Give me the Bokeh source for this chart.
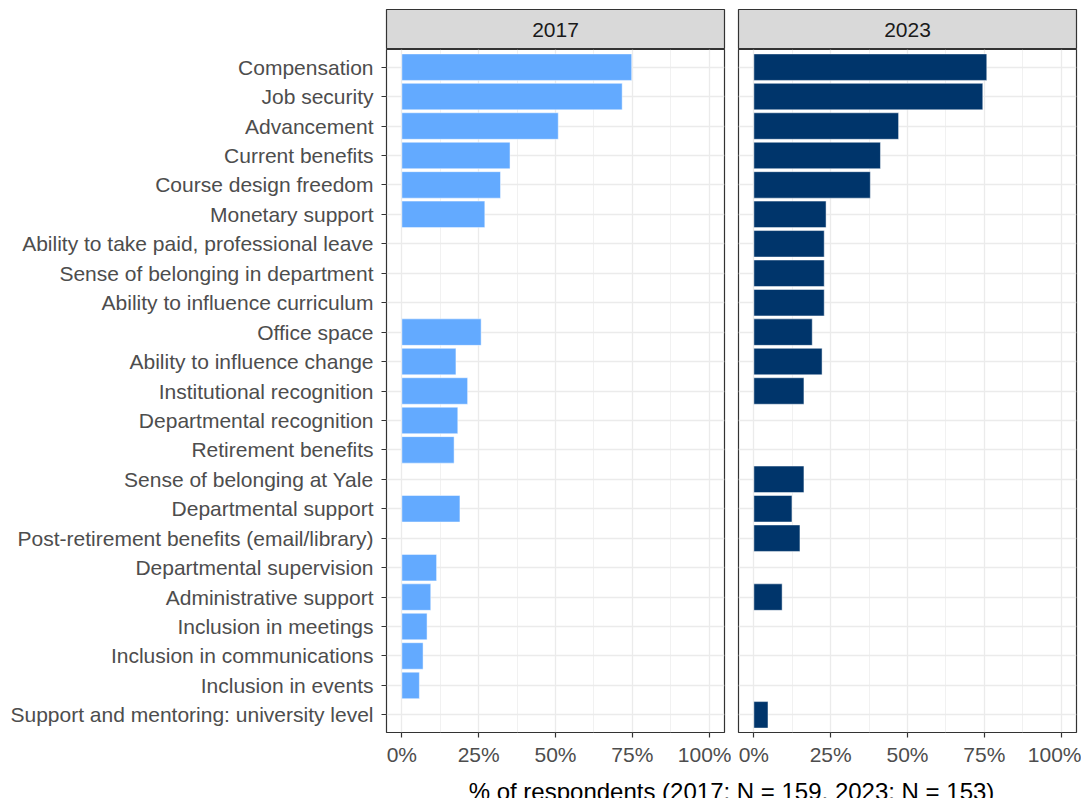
from bokeh.plotting import figure
from bokeh.layouts import column, row
from bokeh.models import FactorRange, Range1d, FixedTicker, ColumnDataSource
from bokeh.core.properties import value
from bokeh.embed import file_html
from bokeh.resources import INLINE

categories = [
    "Compensation", "Job security", "Advancement", "Current benefits",
    "Course design freedom", "Monetary support",
    "Ability to take paid, professional leave", "Sense of belonging in department",
    "Ability to influence curriculum", "Office space", "Ability to influence change",
    "Institutional recognition", "Departmental recognition", "Retirement benefits",
    "Sense of belonging at Yale", "Departmental support",
    "Post-retirement benefits (email/library)", "Departmental supervision",
    "Administrative support", "Inclusion in meetings", "Inclusion in communications",
    "Inclusion in events", "Support and mentoring: university level",
]
pct_2017 = [74.8, 71.7, 50.9, 35.2, 32.1, 27.0, None, None, None, 25.8, 17.6,
            21.4, 18.2, 17.0, None, 18.9, None, 11.3, 9.4, 8.2, 6.9, 5.7, None]
pct_2023 = [75.8, 74.5, 47.1, 41.2, 37.9, 23.5, 22.9, 22.9, 22.9, 19.0, 22.2,
            16.3, None, None, 16.3, 12.4, 15.0, None, 9.2, None, None, None, 4.6]
years = ["2017", "2023"]
colors = ["#63AAFF", "#00356B"]
x_ticks = [0, 25, 50, 75, 100]
x_minor = [12.5, 37.5, 62.5, 87.5]
x_tick_labels = ["0%", "25%", "50%", "75%", "100%"]
x_title = "% of respondents (2017: N = 159, 2023: N = 153)"

FONT = "Liberation Sans"
LEFT = 386
FW = 338
GAP = 7


def strip(label, left, right):
    s = figure(frame_width=FW, frame_height=40, min_border_top=9, min_border_bottom=0,
               min_border_left=left, min_border_right=right,
               x_axis_type=None, y_axis_type=None,
               x_range=Range1d(0, 1), y_range=Range1d(0, 1),
               output_backend="svg", toolbar_location=None)
    s.background_fill_color = "#D9D9D9"
    s.border_fill_color = "white"
    s.outline_line_color = "#333333"
    s.outline_line_width = 1.2
    s.grid.visible = False
    s.text(x=[0.5], y=[0.5], text=[label], text_align="center", text_baseline="middle",
           text_font=value(FONT), text_font_size="21px", text_color="#1A1A1A")
    return s


def panel(vals, color, left, right, show_y):
    cats = [c for c, v in zip(categories, vals) if v is not None]
    vv = [v for v in vals if v is not None]
    src = ColumnDataSource(dict(cat=cats, val=vv))
    p = figure(frame_width=FW, frame_height=683, min_border_top=0, min_border_bottom=30,
               min_border_left=left, min_border_right=right,
               y_range=FactorRange(factors=categories[::-1], range_padding=0.1,
                                   range_padding_units="absolute"),
               x_range=Range1d(-5, 105),
               output_backend="svg", toolbar_location=None)
    p.background_fill_color = "white"
    p.border_fill_color = "white"
    p.outline_line_color = "#333333"
    p.outline_line_width = 1.2
    p.hbar(y="cat", right="val", left=0, height=0.9, source=src,
           fill_color=color, line_color="white", line_width=0.8, line_alpha=0.6)
    ticker = FixedTicker(ticks=x_ticks, minor_ticks=x_minor)
    p.xaxis.ticker = ticker
    p.xgrid.ticker = ticker
    p.xaxis.major_label_overrides = {t: l for t, l in zip(x_ticks, x_tick_labels)}
    p.xgrid.grid_line_color = "#EBEBEB"
    p.xgrid.grid_line_width = 1.3
    p.xgrid.minor_grid_line_color = "#EBEBEB"
    p.xgrid.minor_grid_line_width = 0.7
    p.ygrid.grid_line_color = "#EBEBEB"
    p.ygrid.grid_line_width = 1.3
    for ax in (p.xaxis, p.yaxis):
        ax.axis_line_color = None
        ax.axis_label = None
        ax.axis_label_standoff = 0
        ax.major_tick_line_color = "#333333"
        ax.major_tick_line_width = 1.2
        ax.major_tick_out = 5
        ax.major_tick_in = 0
        ax.minor_tick_line_color = None
        ax.major_label_text_font = FONT
        ax.major_label_text_font_size = "21px"
        ax.major_label_text_color = "#4D4D4D"
    p.xaxis.major_label_standoff = 5
    p.yaxis.major_label_standoff = 8
    p.yaxis.visible = show_y
    return p


s1 = strip(years[0], LEFT, GAP)
s2 = strip(years[1], GAP, 5)
p1 = panel(pct_2017, colors[0], LEFT, GAP, True)
p2 = panel(pct_2023, colors[1], GAP, 5, False)

t = figure(frame_width=FW * 2 + GAP * 2, frame_height=30, min_border_top=0, min_border_bottom=0,
           min_border_left=LEFT, min_border_right=5,
           x_axis_type=None, y_axis_type=None,
           x_range=Range1d(0, 30), y_range=Range1d(30, 0),
           output_backend="svg", toolbar_location=None)
t.outline_line_color = None
t.grid.visible = False
t.text(x=[15], y=[23], text=[x_title], text_align="center", text_baseline="alphabetic",
       text_font=value(FONT), text_font_size="24px", text_color="black")

layout = column(row(s1, s2), row(p1, p2), t)
open("out.html", "w").write(file_html(layout, INLINE))
